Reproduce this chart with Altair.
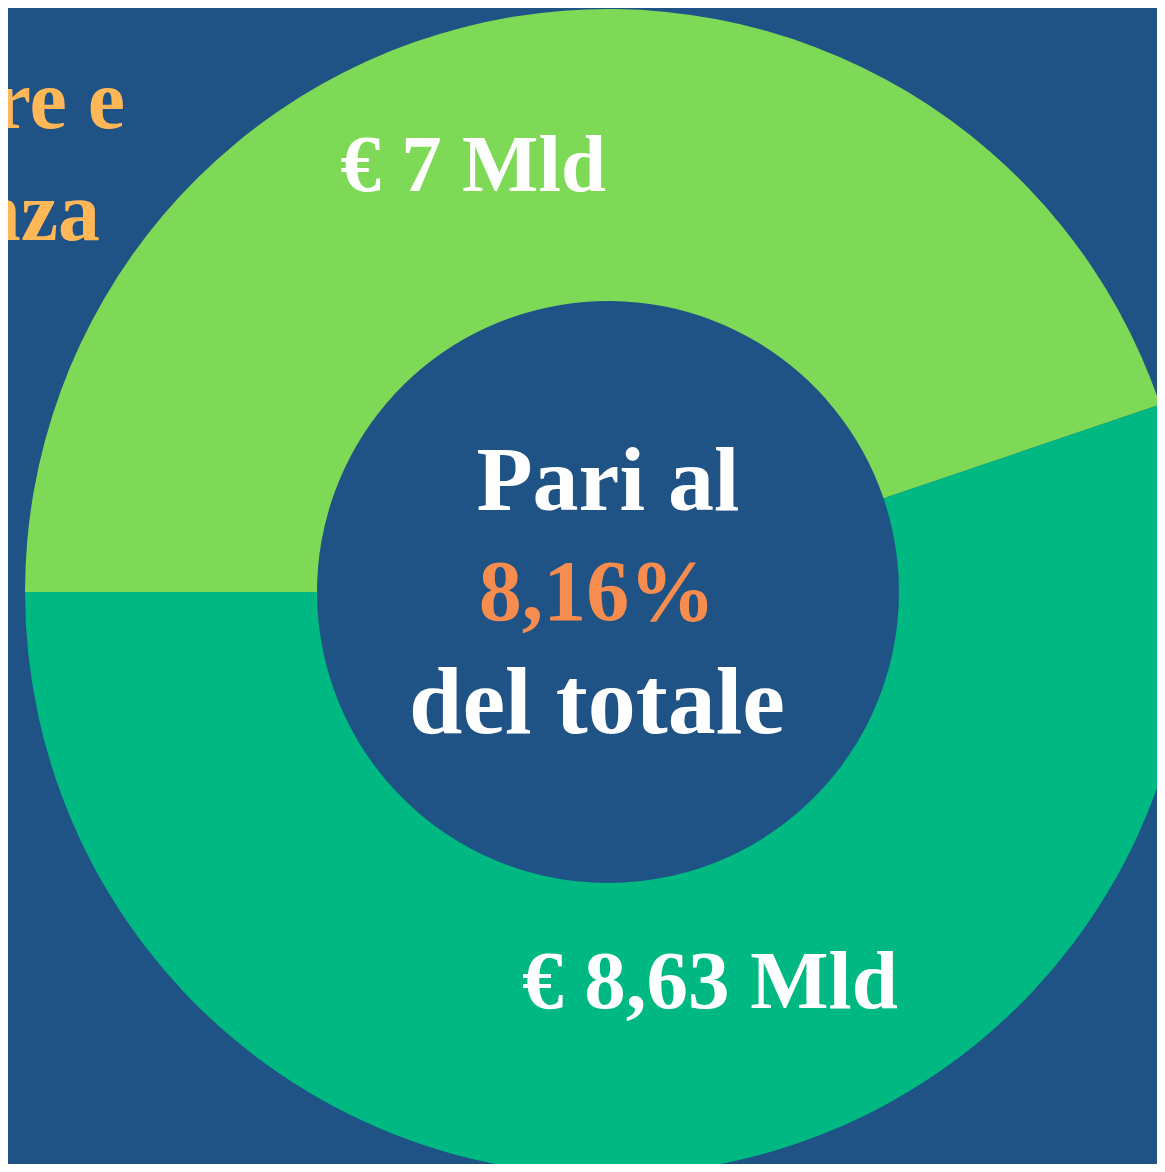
import math
import altair as alt
import pandas as pd

# Data
categories = ["Innovazione, ricerca e digitalizzazione", "Reti di prossimità e telemedicina"]
values = [8.63, 7.0]
labels = ["€ 8,63 Mld", "€ 7 Mld"]
colors = ["#00B881", "#7ED957"]
center_lines = ["Pari al", "8,16%", "del totale"]
side_lines = ["strutture e", "assistenza"]

df = pd.DataFrame({"cat": categories, "value": values, "label": labels, "order": [0, 1]})

W, H = 1149, 1156
CX, CY = 600, 584
BG = "#1F5285"
FONT = "Liberation Serif"

start = math.radians(270 - values[0] / sum(values) * 360)
theta_scale = alt.Scale(range=[start, start + 2 * math.pi])

base = alt.Chart(df)

donut = base.mark_arc(outerRadius=583, innerRadius=291, stroke=None).encode(
    theta=alt.Theta("value:Q", stack=True, scale=theta_scale),
    color=alt.Color("cat:N", scale=alt.Scale(domain=categories, range=colors), legend=None),
    order=alt.Order("order:Q"),
    x=alt.value(CX),
    y=alt.value(CY),
)

def slice_label(cat, radius, dx, dy, size):
    return base.mark_text(
        radius=radius, dx=dx, dy=dy, font=FONT, fontWeight="bold", fontSize=size,
        color="white", align="center", baseline="middle",
    ).encode(
        theta=alt.Theta("value:Q", stack=True, scale=theta_scale),
        order=alt.Order("order:Q"),
        text=alt.condition(alt.datum.cat == cat, alt.Text("label:N"), alt.value("")),
        x=alt.value(CX),
        y=alt.value(CY),
    )

lab_a = slice_label(categories[1], 446, -62, 15, 81)
lab_b = slice_label(categories[0], 404, 36, -8, 83)

center_df = pd.DataFrame({
    "line": center_lines,
    "idx": [0, 1, 2],
})

def center_text(i, color, dx, size):
    return alt.Chart(center_df).transform_filter(alt.datum.idx == i).mark_text(
        font=FONT, fontWeight="bold", fontSize=size, color=color,
        align="center", baseline="alphabetic", dx=dx,
    ).encode(
        text="line:N",
        x=alt.value(CX),
        y=alt.value([502, 612, 725][i]),
    )

c0 = center_text(0, "white", 0, 92)
c1 = center_text(1, "#F68D4E", -11, 86)
c2 = center_text(2, "white", -11, 96)

side_df = pd.DataFrame({"line": side_lines, "idx": [0, 1]})
side0 = alt.Chart(side_df).transform_filter(alt.datum.idx == 0).mark_text(
    font=FONT, fontWeight="bold", fontSize=84, color="#FFB758", align="right", baseline="alphabetic"
).encode(text="line:N", x=alt.value(117), y=alt.value(120))
side1 = alt.Chart(side_df).transform_filter(alt.datum.idx == 1).mark_text(
    font=FONT, fontWeight="bold", fontSize=84, color="#FFB758", align="right", baseline="alphabetic"
).encode(text="line:N", x=alt.value(92), y=alt.value(232))

chart = alt.layer(donut, lab_a, lab_b, c0, c1, c2, side0, side1).properties(
    width=W, height=H, background=BG, padding=0,
    autosize=alt.AutoSizeParams(type="none"),
).configure_view(stroke=None)

chart.save("out.html", embed_options={"renderer": "svg", "actions": False})
